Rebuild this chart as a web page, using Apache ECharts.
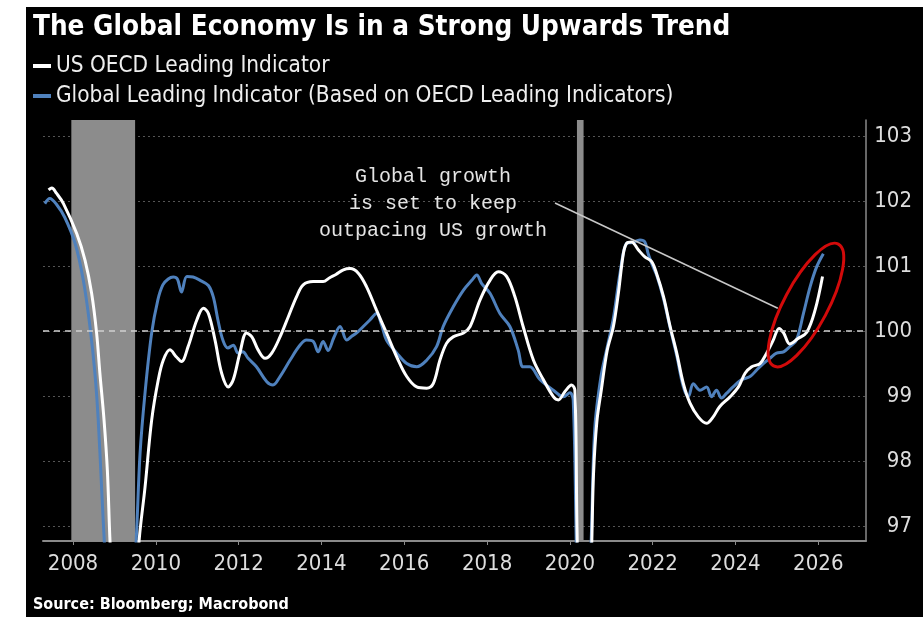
<!DOCTYPE html>
<html>
<head>
<meta charset="utf-8">
<script src="https://cdn.jsdelivr.net/npm/echarts@6/dist/echarts.min.js"></script>
<style>
  html, body { margin: 0; padding: 0; background: #fff; }
  #wrap { position: relative; width: 923px; height: 619px; overflow: hidden; }
  #panel { position: absolute; left: 26px; top: 7px; right: 0; bottom: 2px; background: #000; }
  #chart { position: absolute; left: 0; top: 0; width: 923px; height: 619px; }
</style>
</head>
<body>
<div id="wrap"><div id="panel"></div><div id="chart"></div></div>
<script>
// US OECD composite leading indicator (decimal year, index level)
const usYears = [
  2007.41, 2007.49, 2007.6, 2007.77, 2008.09, 2008.29, 2008.45, 2008.57, 2008.65, 2008.75,
  2008.83, 2008.89, 2009.0, 2009.2, 2009.35, 2009.47, 2009.6, 2009.74, 2009.9, 2010.06,
  2010.18, 2010.34, 2010.5, 2010.62, 2010.78, 2010.99, 2011.15, 2011.27, 2011.43, 2011.59,
  2011.75, 2011.87, 2012.03, 2012.19, 2012.32, 2012.47, 2012.64, 2012.8, 2013.0, 2013.2,
  2013.4, 2013.56, 2013.8, 2014.04, 2014.2, 2014.35, 2014.53, 2014.69, 2014.89, 2015.09,
  2015.33, 2015.57, 2015.82, 2016.06, 2016.3, 2016.54, 2016.7, 2016.86, 2017.02, 2017.18,
  2017.43, 2017.59, 2017.83, 2018.07, 2018.27, 2018.47, 2018.67, 2018.87, 2019.12, 2019.36,
  2019.6, 2019.72, 2019.88, 2020.04, 2020.12, 2020.17, 2020.25, 2020.35, 2020.45, 2020.53,
  2020.57, 2020.65, 2020.76, 2020.9, 2021.05, 2021.17, 2021.29, 2021.37, 2021.49, 2021.65,
  2021.81, 2021.97, 2022.09, 2022.26, 2022.42, 2022.58, 2022.74, 2022.9, 2023.1, 2023.3,
  2023.46, 2023.62, 2023.87, 2024.07, 2024.23, 2024.39, 2024.59, 2024.75, 2024.91, 2025.05,
  2025.16, 2025.31, 2025.5, 2025.72, 2025.92, 2026.1
];
const usValues = [
  102.17, 102.2, 102.12, 101.96, 101.5, 101.09, 100.58, 99.97, 99.35, 98.63,
  97.86, 96.83, 95.3, 94.0, 94.6, 95.6, 96.8, 97.6, 98.63, 99.25,
  99.55, 99.71, 99.6, 99.53, 99.76, 100.17, 100.35, 100.27, 99.86, 99.35,
  99.14, 99.25, 99.66, 99.97, 99.91, 99.71, 99.58, 99.66, 99.91, 100.22,
  100.53, 100.71, 100.76, 100.76, 100.82, 100.87, 100.94, 100.96, 100.89, 100.68,
  100.32, 99.97, 99.6, 99.3, 99.14, 99.12, 99.19, 99.55, 99.81, 99.91,
  99.97, 100.07, 100.48, 100.78, 100.91, 100.84, 100.53, 100.07, 99.55, 99.25,
  98.99, 98.94, 99.07, 99.17, 99.09, 97.0, 94.5, 93.0, 94.8, 96.8,
  97.8, 98.6, 99.1, 99.7, 100.07, 100.58, 101.19, 101.35, 101.37, 101.25,
  101.14, 101.07, 100.89, 100.53, 100.07, 99.66, 99.19, 98.89, 98.68, 98.58,
  98.68, 98.84, 98.99, 99.14, 99.35, 99.45, 99.5, 99.66, 99.86, 100.04,
  99.97, 99.8, 99.88, 99.98, 100.32, 100.84
];

// Global leading indicator built from OECD leading indicators
const globalYears = [
  2007.32, 2007.44, 2007.6, 2007.8, 2008.05, 2008.25, 2008.41, 2008.53, 2008.61, 2008.69,
  2008.77, 2008.9, 2009.05, 2009.2, 2009.35, 2009.5, 2009.62, 2009.74, 2009.9, 2010.05,
  2010.17, 2010.3, 2010.42, 2010.52, 2010.62, 2010.75, 2010.9, 2011.07, 2011.27, 2011.39,
  2011.5, 2011.62, 2011.74, 2011.87, 2011.99, 2012.1, 2012.23, 2012.43, 2012.68, 2012.83,
  2013.0, 2013.24, 2013.48, 2013.64, 2013.8, 2013.92, 2014.04, 2014.16, 2014.3, 2014.45,
  2014.61, 2014.73, 2014.85, 2015.01, 2015.17, 2015.33, 2015.45, 2015.57, 2015.82, 2016.06,
  2016.3, 2016.54, 2016.78, 2016.94, 2017.18, 2017.43, 2017.63, 2017.75, 2017.87, 2018.07,
  2018.31, 2018.55, 2018.75, 2018.87, 2019.03, 2019.28, 2019.6, 2019.84, 2020.0, 2020.08,
  2020.16, 2020.25, 2020.35, 2020.45, 2020.52, 2020.6, 2020.75, 2020.9, 2021.05, 2021.21,
  2021.37, 2021.5, 2021.69, 2021.81, 2021.89, 2022.0, 2022.1, 2022.26, 2022.42, 2022.58,
  2022.74, 2022.86, 2022.98, 2023.14, 2023.3, 2023.42, 2023.54, 2023.66, 2023.78, 2023.94,
  2024.14, 2024.35, 2024.51, 2024.67, 2024.83, 2024.99, 2025.16, 2025.31, 2025.47, 2025.64,
  2025.8, 2025.96, 2026.12
];
const globalValues = [
  101.96, 102.04, 101.95, 101.75, 101.35, 100.78, 100.07, 99.35, 98.63, 97.6,
  96.6, 95.2, 94.3, 94.6, 95.6, 96.5, 98.12, 99.05, 99.97, 100.48,
  100.71, 100.8, 100.83, 100.8, 100.6, 100.84, 100.83, 100.78, 100.7, 100.52,
  100.17, 99.86, 99.74, 99.78, 99.66, 99.68, 99.58, 99.45, 99.22, 99.17,
  99.3, 99.55, 99.78, 99.86, 99.84, 99.68, 99.84, 99.7, 99.9, 100.07,
  99.86, 99.92, 99.97, 100.07, 100.17, 100.27, 100.1, 99.86, 99.66, 99.5,
  99.45, 99.55, 99.76, 100.07, 100.37, 100.63, 100.78, 100.86, 100.73, 100.58,
  100.27, 100.07, 99.71, 99.45, 99.45, 99.25, 99.09, 98.99, 99.05, 98.94,
  96.5, 94.0, 93.5, 95.5, 96.9, 98.5, 99.3, 99.75, 100.2, 100.89,
  101.35, 101.36, 101.4, 101.37, 101.19, 101.0, 100.85, 100.5, 100.05, 99.62,
  99.14, 98.99, 99.19, 99.09, 99.14, 98.99, 99.09, 98.97, 99.04, 99.14,
  99.25, 99.3, 99.4, 99.5, 99.58, 99.66, 99.68, 99.76, 99.86, 100.27,
  100.68, 100.99, 101.19
];

// US recessions (shaded)
const recessionStarts = [2007.96, 2020.17];
const recessionEnds = [2009.5, 2020.33];

const yearTicks = [2008, 2010, 2012, 2014, 2016, 2018, 2020, 2022, 2024, 2026];
const levelTicks = [97, 98, 99, 100, 101, 102, 103];

const US_NAME = 'US OECD Leading Indicator';
const GLOBAL_NAME = 'Global Leading Indicator (Based on OECD Leading Indicators)';

const CONDENSED = "'DejaVu Sans Condensed', 'DejaVu Sans', sans-serif";
const MONO = "'Liberation Mono', 'DejaVu Sans Mono', monospace";

// plotting window of the data grid
const X_MIN = 2007.276, X_MAX = 2027.15;
const Y_MIN = 96.77, Y_MAX = 103.246;

const pairs = (xs, ys) => xs.map((x, i) => [x, ys[i]]);

const chart = echarts.init(document.getElementById('chart'), null, { renderer: 'canvas' });

const option = {
  backgroundColor: 'transparent',
  animation: false,
  title: {
    text: 'The Global Economy Is in a Strong Upwards Trend',
    left: 33, top: 14, padding: 0,
    textStyle: { color: '#ffffff', fontFamily: CONDENSED, fontWeight: 'bold', fontSize: 27.6 }
  },
  legend: {
    orient: 'vertical', left: 33, top: 55, padding: 0,
    itemWidth: 18, itemHeight: 4, itemGap: 8,
    icon: 'rect',
    data: [US_NAME, GLOBAL_NAME],
    textStyle: { color: '#eeeeee', fontFamily: CONDENSED, fontSize: 22.4, lineHeight: 20 }
  },
  grid: [
    { left: 43, right: 57, top: 120, bottom: 78 },
    { left: 43, right: 57, top: 136, bottom: 93 },
    { left: 73, right: 104.7, top: 120, bottom: 78 }
  ],
  xAxis: [
    {
      type: 'value', gridIndex: 0, min: X_MIN, max: X_MAX,
      axisLine: { show: true, onZero: false, lineStyle: { color: '#8a8a8a', width: 2 } },
      axisTick: { show: false }, axisLabel: { show: false }, splitLine: { show: false }
    },
    { type: 'value', gridIndex: 1, min: 0, max: 1, show: false },
    {
      type: 'value', gridIndex: 2, min: yearTicks[0], max: yearTicks[yearTicks.length - 1], interval: 2,
      axisLine: { show: false, onZero: false },
      axisTick: { show: true, length: 4, lineStyle: { color: '#8a8a8a', width: 1 } },
      axisLabel: { color: '#dddddd', fontFamily: CONDENSED, fontSize: 22, margin: 12, formatter: v => String(v) },
      splitLine: { show: false }
    }
  ],
  yAxis: [
    {
      type: 'value', gridIndex: 0, position: 'right', min: Y_MIN, max: Y_MAX,
      axisLine: { show: true, lineStyle: { color: '#8a8a8a', width: 1.5 } },
      axisTick: { show: false }, axisLabel: { show: false }, splitLine: { show: false }
    },
    {
      type: 'value', gridIndex: 1, position: 'right',
      min: levelTicks[0], max: levelTicks[levelTicks.length - 1], interval: 1,
      axisLine: { show: false }, axisTick: { show: false },
      axisLabel: { color: '#dddddd', fontFamily: CONDENSED, fontSize: 22, align: 'right', margin: 46 },
      splitLine: { show: true, lineStyle: { color: '#555555', width: 1, type: [2, 3] } }
    },
    { type: 'value', gridIndex: 2, min: 0, max: 1, show: false }
  ],
  series: [
    {
      type: 'line', name: 'recessions', xAxisIndex: 0, yAxisIndex: 0, data: [], silent: true, z: 1,
      markArea: {
        silent: true,
        itemStyle: { color: '#8c8c8c' },
        data: recessionStarts.map((s, i) => [{ xAxis: s }, { xAxis: recessionEnds[i] }])
      }
    },
    {
      type: 'line', name: 'par', xAxisIndex: 0, yAxisIndex: 0, data: [], silent: true, z: 2,
      markLine: {
        silent: true, symbol: 'none', label: { show: false },
        lineStyle: { color: '#d0d0d0', width: 1.5, type: [6, 5] },
        data: [{ yAxis: 100 }]
      }
    },
    {
      type: 'line', name: GLOBAL_NAME, xAxisIndex: 0, yAxisIndex: 0,
      data: pairs(globalYears, globalValues),
      smooth: 0.35, showSymbol: false, z: 3,
      lineStyle: { color: '#4f81bd', width: 3 }, itemStyle: { color: '#4f81bd' }
    },
    {
      type: 'line', name: US_NAME, xAxisIndex: 0, yAxisIndex: 0,
      data: pairs(usYears, usValues),
      smooth: 0.35, showSymbol: false, z: 4,
      lineStyle: { color: '#ffffff', width: 3 }, itemStyle: { color: '#ffffff' }
    }
  ]
};

chart.setOption(option);

// annotation: pointer line, highlight ellipse and caption, anchored in data space
const toPx = (x, y) => chart.convertToPixel({ xAxisIndex: 0, yAxisIndex: 0 }, [x, y]);
const from = toPx(2019.64, 101.97);
const to = toPx(2025.02, 100.35);
const focus = toPx(2025.70, 100.40);

chart.setOption({
  graphic: [
    {
      type: 'line', z: 50, silent: true,
      shape: { x1: from[0], y1: from[1], x2: to[0], y2: to[1] },
      style: { stroke: '#c8c8c8', lineWidth: 1.5 }
    },
    {
      type: 'ellipse', z: 50, silent: true,
      x: focus[0], y: focus[1], rotation: 62 * Math.PI / 180,
      shape: { cx: 0, cy: 0, rx: 69, ry: 22 },
      style: { fill: 'none', stroke: '#d20a0a', lineWidth: 3 }
    },
    {
      type: 'text', z: 50, silent: true,
      x: 433, y: 204,
      style: {
        text: 'Global growth\nis set to keep\noutpacing US growth',
        fill: '#e4e4e4', fontFamily: MONO, fontSize: 20, lineHeight: 27,
        align: 'center', verticalAlign: 'middle'
      }
    },
    {
      type: 'text', z: 50, silent: true,
      left: 33, top: 597,
      style: {
        text: 'Source: Bloomberg; Macrobond',
        fill: '#ffffff', fontFamily: CONDENSED, fontWeight: 'bold', fontSize: 16
      }
    }
  ]
});
</script>
</body>
</html>
